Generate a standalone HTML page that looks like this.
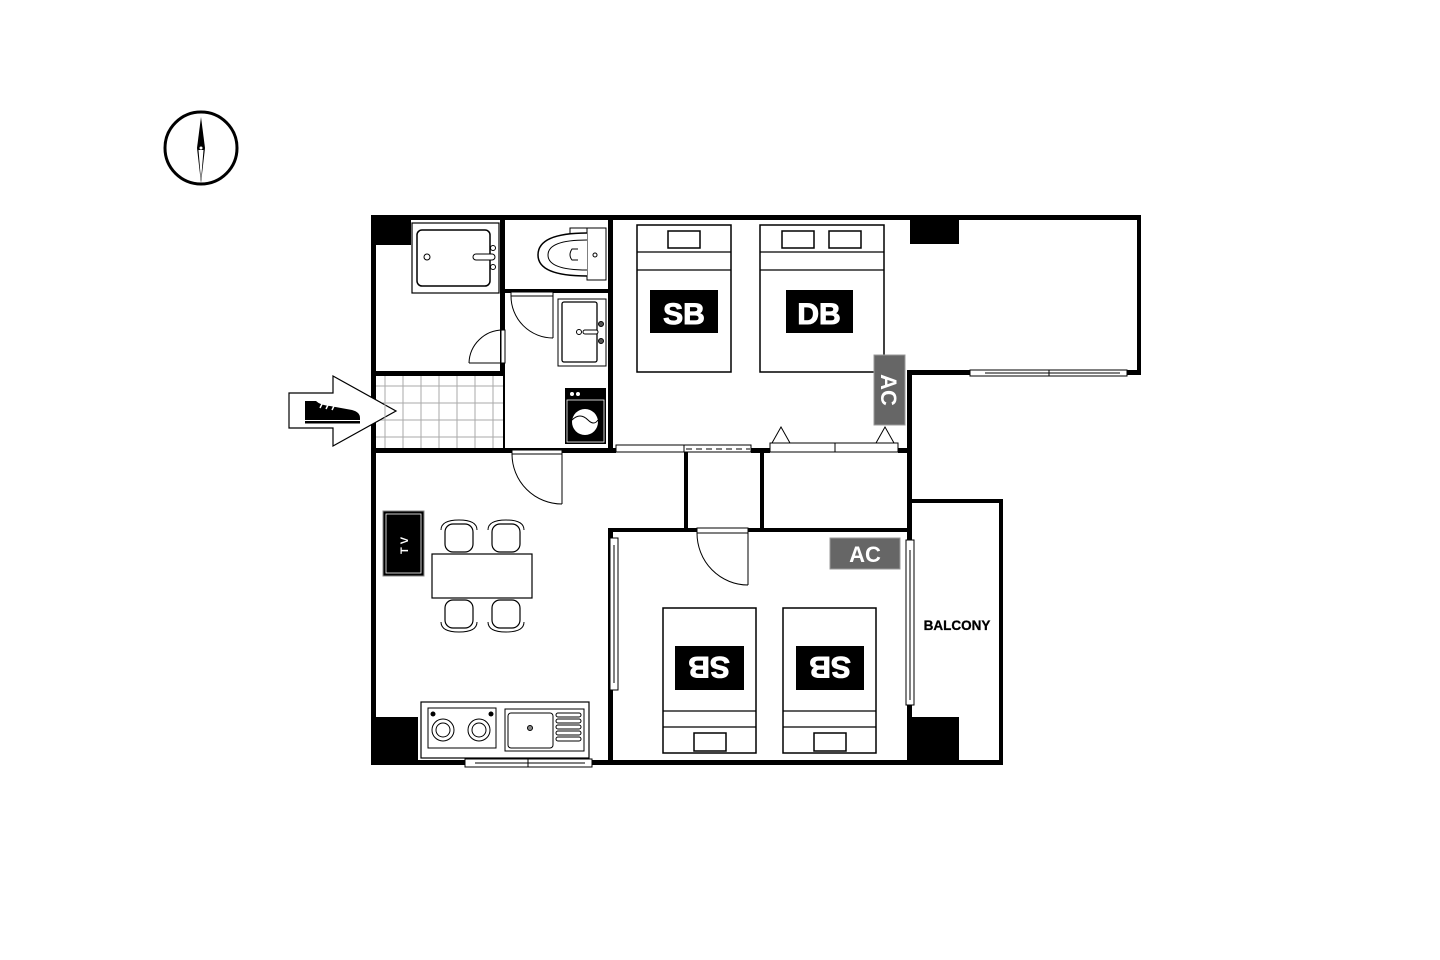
<!DOCTYPE html>
<html><head><meta charset="utf-8"><style>
html,body{margin:0;padding:0;background:#fff;}
svg{display:block;}
text{font-family:"Liberation Sans",sans-serif;font-weight:bold;}
</style></head><body>
<svg width="1440" height="960" viewBox="0 0 1440 960" xmlns="http://www.w3.org/2000/svg">
<rect width="1440" height="960" fill="#fff"/>
<!-- compass -->
<circle cx="201" cy="148" r="36" fill="none" stroke="#000" stroke-width="3"/>
<polygon points="201,117 205,148 201,183 197,148" fill="#000"/>
<polygon points="201,150 203.5,150 201,180 198.5,150" fill="#fff"/>
<circle cx="201" cy="148" r="1.5" fill="#fff"/>

<!-- tile grid -->
<g stroke="#aaa" stroke-width="1">
<line x1="385" y1="376" x2="385" y2="448"/><line x1="403" y1="376" x2="403" y2="448"/><line x1="421" y1="376" x2="421" y2="448"/><line x1="439" y1="376" x2="439" y2="448"/><line x1="457" y1="376" x2="457" y2="448"/><line x1="475" y1="376" x2="475" y2="448"/><line x1="493" y1="376" x2="493" y2="448"/>
<line x1="376" y1="386" x2="503" y2="386"/><line x1="376" y1="403" x2="503" y2="403"/><line x1="376" y1="420" x2="503" y2="420"/><line x1="376" y1="437" x2="503" y2="437"/>
</g>

<!-- walls -->
<g fill="#000">
<rect x="371" y="215" width="770" height="5"/>
<rect x="371" y="215" width="5" height="550"/>
<rect x="371" y="760" width="632" height="5"/>
<rect x="1137" y="215" width="4" height="160"/>
<rect x="907" y="370" width="234" height="5"/>
<rect x="907" y="370" width="5" height="395"/>
<rect x="907" y="499" width="96" height="4"/>
<rect x="999" y="499" width="4" height="266"/>
<rect x="371" y="215" width="40" height="30"/>
<rect x="910" y="215" width="49" height="29"/>
<rect x="371" y="717" width="47" height="48"/>
<rect x="910" y="717" width="49" height="48"/>
<rect x="500" y="215" width="5" height="160"/>
<rect x="371" y="371" width="134" height="5"/>
<rect x="505" y="289" width="107" height="4"/>
<rect x="608" y="215" width="5" height="237"/>
<rect x="371" y="448" width="245" height="5"/>
<rect x="751" y="448" width="19" height="5"/>
<rect x="898" y="448" width="12" height="5"/>
<rect x="684" y="450" width="4" height="80"/>
<rect x="760" y="450" width="4" height="80"/>
<rect x="608" y="528" width="302" height="4"/>
<rect x="608" y="528" width="5" height="237"/>
<rect x="503" y="376" width="2" height="74"/>
</g>
<!-- entry arrow -->
<polygon points="289,393 333,393 333,376 396,411 333,446 333,428 289,428" fill="#fff" stroke="#000" stroke-width="1.2"/>
<path d="M305,401 L316,401 Q320,405 330,406 L352,410 Q360,412 360,418 L360,420 L305,420 Z" fill="#000"/>
<line x1="320" y1="408" x2="323" y2="402" stroke="#fff" stroke-width="1.5"/>
<line x1="326" y1="409" x2="329" y2="403" stroke="#fff" stroke-width="1.5"/>
<line x1="332" y1="410" x2="335" y2="404" stroke="#fff" stroke-width="1.5"/>
<rect x="305" y="421" width="55" height="2.5" fill="#000"/>
<line x1="385" y1="400" x2="385" y2="422" stroke="#aaa"/>
<!-- windows -->
<g fill="#fff" stroke="#000" stroke-width="1">
<rect x="616" y="445" width="135" height="7"/>
<rect x="770" y="443" width="128" height="9"/>
<rect x="970" y="370" width="157" height="6"/>
<rect x="465" y="759" width="127" height="8"/>
<rect x="610" y="538" width="8" height="152"/>
<rect x="906" y="540" width="8" height="165"/>
</g>
<line x1="684" y1="445" x2="684" y2="452" stroke="#000"/>
<line x1="686" y1="449" x2="750" y2="449" stroke="#000" stroke-dasharray="6,4"/>
<line x1="835" y1="443" x2="835" y2="452" stroke="#000"/>
<line x1="1049" y1="370" x2="1049" y2="376" stroke="#000"/>
<line x1="985" y1="373" x2="1120" y2="373" stroke="#000"/>
<line x1="528" y1="759" x2="528" y2="767" stroke="#000"/>
<line x1="475" y1="763" x2="585" y2="763" stroke="#000"/>
<line x1="614" y1="545" x2="614" y2="683" stroke="#000"/>
<line x1="910" y1="550" x2="910" y2="700" stroke="#000"/>
<!-- closet triangles -->
<polygon points="772,443 781,427 790,443" fill="#fff" stroke="#000"/>
<polygon points="876,443 885,427 894,443" fill="#fff" stroke="#000"/>

<!-- bathtub -->
<rect x="412" y="223" width="87" height="70" fill="#fff" stroke="#000" stroke-width="1.2"/>
<rect x="417" y="230" width="73" height="56" rx="5" fill="#fff" stroke="#000" stroke-width="1.5"/>
<circle cx="427" cy="257" r="3" fill="none" stroke="#000"/>
<rect x="473" y="254" width="22" height="6" rx="3" fill="#fff" stroke="#000"/>
<circle cx="493" cy="248" r="2.5" fill="#fff" stroke="#000"/>
<circle cx="493" cy="267" r="2.5" fill="#fff" stroke="#000"/>
<!-- bath door -->
<rect x="501" y="330" width="4" height="33" fill="#fff" stroke="#000"/>
<path d="M469,363 A34,34 0 0 1 503,330" fill="none" stroke="#000"/>
<line x1="469" y1="363" x2="503" y2="363" stroke="#000"/>
<!-- toilet -->
<rect x="587" y="228" width="19" height="52" fill="#fff" stroke="#000"/>
<rect x="570" y="228" width="17" height="6" fill="#fff" stroke="#000"/>
<path d="M587,233 Q538,233 538,255 Q538,276 587,276" fill="#fff" stroke="#000" stroke-width="1.5"/>
<path d="M587,240 Q548,240 548,255 Q548,270 587,270" fill="none" stroke="#000"/>
<path d="M578,249 L572,249 Q568,255 572,260 L578,260" fill="none" stroke="#000"/>
<circle cx="595" cy="255" r="2" fill="none" stroke="#000"/>
<!-- washroom door -->
<rect x="511" y="292" width="42" height="4" fill="#fff" stroke="#000"/>
<path d="M511,296 A42,42 0 0 0 553,338" fill="none" stroke="#000"/>
<line x1="553" y1="296" x2="553" y2="338" stroke="#000"/>
<!-- vanity -->
<rect x="558" y="299" width="48" height="67" fill="#fff" stroke="#000"/>
<rect x="562" y="302" width="35" height="60" rx="2" fill="#fff" stroke="#000" stroke-width="1.3"/>
<circle cx="579" cy="332" r="2.5" fill="none" stroke="#000"/>
<rect x="583" y="330" width="15" height="4" rx="2" fill="#fff" stroke="#000"/>
<circle cx="601" cy="324" r="2.5" fill="#555" stroke="#000"/>
<circle cx="601" cy="341" r="2.5" fill="#555" stroke="#000"/>
<!-- washer -->
<rect x="565" y="388" width="41" height="56" fill="#000"/>
<rect x="567" y="400" width="37" height="42" fill="#000" stroke="#fff" stroke-width="0.8"/>
<circle cx="572" cy="394" r="2" fill="#fff"/><circle cx="578" cy="394" r="2" fill="#fff"/>
<circle cx="585" cy="422" r="13" fill="#fff"/>
<path d="M572,420 Q580,412 588,420 Q594,426 598,420" fill="none" stroke="#000"/>
<!-- LDK door -->
<rect x="512" y="450" width="50" height="4" fill="#fff" stroke="#000"/>
<path d="M512,454 A50,50 0 0 0 562,504" fill="none" stroke="#000"/>
<line x1="562" y1="454" x2="562" y2="504" stroke="#000"/>
<!-- TV -->
<rect x="383" y="511" width="41" height="65" fill="#000" stroke="#888"/>
<rect x="386" y="514" width="35" height="59" fill="#000" stroke="#fff" stroke-width="0.8"/>
<text x="404" y="544" font-size="11" fill="#fff" font-weight="normal" text-anchor="middle" transform="rotate(-90 404 544)" dy="4" letter-spacing="3">TV</text>
<!-- table & chairs -->
<rect x="432" y="554" width="100" height="44" fill="#fff" stroke="#000" stroke-width="1.2"/>
<g fill="#fff" stroke="#000" stroke-width="1.2">
<rect x="445" y="524" width="28" height="28" rx="8"/><rect x="492" y="524" width="28" height="28" rx="8"/>
<rect x="445" y="600" width="28" height="28" rx="8"/><rect x="492" y="600" width="28" height="28" rx="8"/>
</g>
<path d="M441,530 Q441,520 459,520 Q477,520 477,530 M488,530 Q488,520 506,520 Q524,520 524,530" fill="none" stroke="#000"/>
<path d="M441,622 Q441,632 459,632 Q477,632 477,622 M488,622 Q488,632 506,632 Q524,632 524,622" fill="none" stroke="#000"/>
<!-- kitchen -->
<rect x="421" y="702" width="168" height="56" fill="#fff" stroke="#000" stroke-width="1.2"/>
<rect x="428" y="708" width="68" height="40" fill="#fff" stroke="#000"/>
<circle cx="433" cy="714" r="2.5" fill="#000"/><circle cx="491" cy="714" r="2.5" fill="#000"/>
<g fill="none" stroke="#000"><circle cx="443" cy="730" r="11"/><circle cx="443" cy="730" r="7"/><circle cx="479" cy="730" r="11"/><circle cx="479" cy="730" r="7"/></g>
<rect x="505" y="709" width="79" height="42" fill="#fff" stroke="#000"/>
<rect x="508" y="713" width="45" height="35" rx="3" fill="#fff" stroke="#000"/>
<circle cx="530" cy="728" r="2.5" fill="#888" stroke="#000"/>
<g fill="#fff" stroke="#000"><rect x="556" y="713" width="25" height="4" rx="2"/><rect x="556" y="719" width="25" height="4" rx="2"/><rect x="556" y="725" width="25" height="4" rx="2"/><rect x="556" y="731" width="25" height="4" rx="2"/><rect x="556" y="737" width="25" height="4" rx="2"/></g>
<!-- bedroom 1 beds -->
<g fill="#fff" stroke="#000" stroke-width="1.5">
<rect x="637" y="225" width="94" height="147"/>
<rect x="760" y="225" width="124" height="147"/>
<rect x="668" y="231" width="32" height="17"/>
<rect x="782" y="231" width="32" height="17"/><rect x="829" y="231" width="32" height="17"/>
</g>
<line x1="637" y1="252" x2="731" y2="252" stroke="#000" stroke-width="1.2"/>
<line x1="637" y1="270" x2="731" y2="270" stroke="#000" stroke-width="1.2"/>
<line x1="760" y1="252" x2="884" y2="252" stroke="#000" stroke-width="1.2"/>
<line x1="760" y1="270" x2="884" y2="270" stroke="#000" stroke-width="1.2"/>
<rect x="650" y="290" width="68" height="43" fill="#000"/>
<text x="684" y="324" font-size="30" fill="#fff" stroke="#fff" stroke-width="1" text-anchor="middle">SB</text>
<rect x="786" y="290" width="67" height="43" fill="#000"/>
<text x="819" y="324" font-size="30" fill="#fff" stroke="#fff" stroke-width="1" text-anchor="middle">DB</text>
<rect x="874" y="355" width="31" height="70" fill="#666" stroke="#999"/>
<text x="889" y="390" font-size="22" fill="#fff" text-anchor="middle" transform="rotate(90 889 390)" dy="8">AC</text>
<!-- bedroom 2 door -->
<rect x="697" y="528" width="51" height="5" fill="#fff" stroke="#000"/>
<path d="M697,533 A51,52 0 0 0 748,585" fill="none" stroke="#000"/>
<line x1="748" y1="533" x2="748" y2="585" stroke="#000"/>
<rect x="830" y="538" width="70" height="31" fill="#666" stroke="#999"/>
<text x="865" y="562" font-size="22" fill="#fff" text-anchor="middle">AC</text>
<!-- bedroom 2 beds -->
<g fill="#fff" stroke="#000" stroke-width="1.5">
<rect x="663" y="608" width="93" height="145"/>
<rect x="783" y="608" width="93" height="145"/>
<rect x="694" y="733" width="32" height="18"/>
<rect x="814" y="733" width="32" height="18"/>
</g>
<line x1="663" y1="711" x2="756" y2="711" stroke="#000" stroke-width="1.2"/>
<line x1="663" y1="727" x2="756" y2="727" stroke="#000" stroke-width="1.2"/>
<line x1="783" y1="711" x2="876" y2="711" stroke="#000" stroke-width="1.2"/>
<line x1="783" y1="727" x2="876" y2="727" stroke="#000" stroke-width="1.2"/>
<rect x="675" y="646" width="69" height="44" fill="#000"/>
<text x="709" y="668" font-size="30" fill="#fff" stroke="#fff" stroke-width="1" text-anchor="middle" transform="rotate(180 709 668)" dy="11">SB</text>
<rect x="796" y="646" width="68" height="44" fill="#000"/>
<text x="830" y="668" font-size="30" fill="#fff" stroke="#fff" stroke-width="1" text-anchor="middle" transform="rotate(180 830 668)" dy="11">SB</text>
<!-- balcony label -->
<text x="957" y="630" font-size="13.5" fill="#000" stroke="#000" stroke-width="0.3" text-anchor="middle">BALCONY</text>
</svg>
</body></html>
